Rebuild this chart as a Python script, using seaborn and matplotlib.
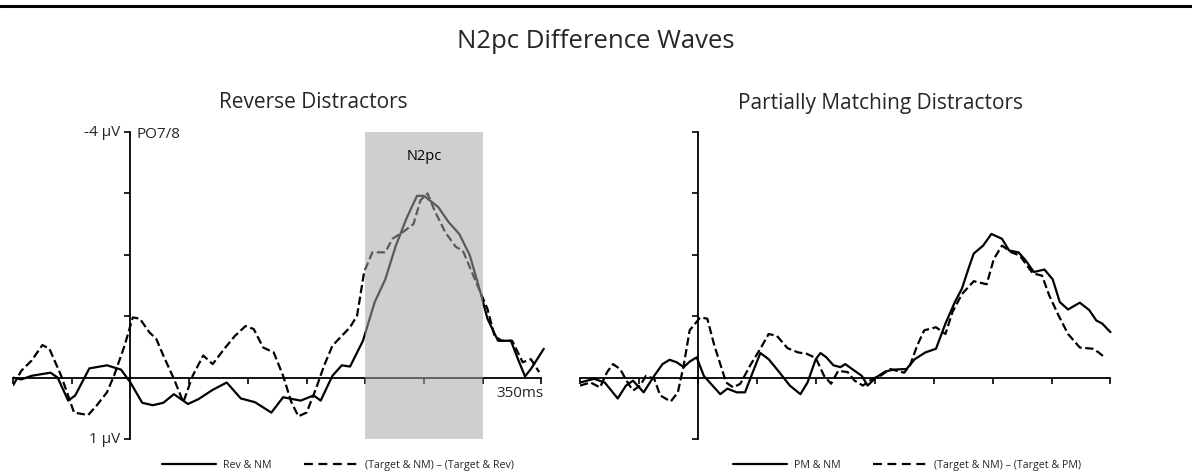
import numpy as np
import pandas as pd
import matplotlib
matplotlib.use("Agg")
import matplotlib.pyplot as plt
import seaborn as sns
from matplotlib.lines import Line2D

# Values (time in ms, amplitude in microvolts, negative up)
rev_nm_t = [-100, -93, -84, -68, -62, -53, -47, -35, -20, -8, 0, 10, 19, 28, 37, 49, 58, 70, 82,
            94, 106, 120, 130, 145, 156, 162, 172, 180, 187, 198, 208, 217, 226, 235, 244, 250,
            262, 271, 280, 289, 298, 304, 313, 324, 330, 336, 341, 352]
rev_nm_uv = [0.0, 0.03, -0.03, -0.08, 0.0, 0.375, 0.29, -0.15, -0.2, -0.13, 0.08, 0.41, 0.45, 0.41,
             0.27, 0.43, 0.35, 0.2, 0.08, 0.34, 0.4, 0.57, 0.32, 0.375, 0.29, 0.375, -0.03, -0.2,
             -0.18, -0.6, -1.23, -1.6, -2.15, -2.59, -2.96, -2.96, -2.78, -2.53, -2.34, -1.99,
             -1.39, -0.96, -0.6, -0.6, -0.3, -0.02, -0.14, -0.47]

rev_diff_t = [-100, -93, -84, -75, -69, -59, -48, -36, -29, -20, -14, -5, 2, 8, 16, 22, 28, 37, 45,
              53, 62, 70, 80, 89, 98, 105, 113, 122, 130, 137, 143, 150, 158, 165, 172, 180, 187,
              193, 199, 206, 217, 223, 232, 241, 247, 253, 259, 268, 277, 283, 292, 298, 304, 310,
              316, 325, 334, 341, 348]
rev_diff_uv = [0.13, -0.11, -0.28, -0.53, -0.47, -0.03, 0.57, 0.61, 0.46, 0.24, -0.03, -0.52,
               -0.98, -0.96, -0.74, -0.63, -0.36, 0.02, 0.4, -0.03, -0.36, -0.22, -0.47, -0.68,
               -0.84, -0.79, -0.49, -0.41, -0.03, 0.4, 0.63, 0.57, 0.18, -0.2, -0.52, -0.68,
               -0.82, -1.01, -1.72, -2.04, -2.04, -2.26, -2.37, -2.5, -2.89, -3.0, -2.72, -2.37,
               -2.13, -2.07, -1.66, -1.39, -1.12, -0.68, -0.6, -0.6, -0.25, -0.3, -0.09]

pm_nm_t = [-100, -88, -79, -68, -61, -55, -46, -37, -30, -24, -18, -12, -7, -1, 5, 11, 19, 25, 33,
           40, 46, 53, 60, 69, 78, 87, 93, 100, 104, 109, 115, 121, 125, 133, 139, 144, 151, 159,
           166, 177, 184, 193, 202, 210, 218, 224, 230, 234, 242, 249, 258, 264, 272, 278, 285,
           294, 301, 307, 314, 324, 332, 338, 343, 350]
pm_nm_uv = [0.08, 0.02, 0.08, 0.34, 0.13, 0.05, 0.24, -0.03, -0.22, -0.29, -0.25, -0.17, -0.26,
            -0.33, -0.03, 0.1, 0.27, 0.18, 0.24, 0.24, -0.06, -0.4, -0.3, -0.09, 0.13, 0.27, 0.08,
            -0.3, -0.4, -0.33, -0.2, -0.17, -0.22, -0.11, -0.03, 0.13, 0.0, -0.1, -0.13, -0.14,
            -0.3, -0.41, -0.47, -0.88, -1.23, -1.45, -1.8, -2.02, -2.15, -2.34, -2.26, -2.07,
            -2.04, -1.91, -1.72, -1.76, -1.6, -1.23, -1.11, -1.22, -1.1, -0.93, -0.88, -0.74]

pm_diff_t = [-100, -91, -83, -77, -72, -66, -59, -55, -49, -44, -37, -32, -23, -17, -12, -7, 2, 8,
             14, 24, 30, 36, 45, 53, 60, 67, 76, 85, 92, 100, 107, 113, 119, 127, 133, 140, 148,
             155, 163, 175, 180, 186, 192, 202, 210, 216, 224, 234, 245, 251, 258, 266, 273, 284,
             292, 298, 306, 314, 324, 335, 340, 345]
pm_diff_uv = [0.13, 0.08, 0.16, -0.09, -0.22, -0.14, 0.1, 0.21, 0.13, -0.03, 0.02, 0.29, 0.39,
              0.24, -0.2, -0.77, -0.98, -0.96, -0.52, 0.08, 0.16, 0.1, -0.22, -0.47, -0.71, -0.68,
              -0.48, -0.41, -0.39, -0.32, -0.03, 0.1, -0.11, -0.09, 0.05, 0.13, 0.02, -0.03,
              -0.14, -0.08, -0.2, -0.52, -0.77, -0.82, -0.71, -1.07, -1.36, -1.57, -1.52, -1.93,
              -2.15, -2.04, -1.99, -1.7, -1.66, -1.34, -1.01, -0.71, -0.49, -0.47, -0.41, -0.33]

x_ticks = [-100, -50, 0, 50, 100, 150, 200, 250, 300, 350]
y_ticks = [-4, -3, -2, -1, 0, 1]
n2pc_window = (200, 300)

FONT = "Open Sans"
sns.set_theme(style="white")
plt.rcParams["font.family"] = [FONT, "DejaVu Sans"]


def make_df(t, v):
    return pd.DataFrame({"time": t, "uv": v})


def style_axes(ax):
    ax.set_xlim(-100, 353)
    ax.set_ylim(1, -4)  # negative up, ERP convention
    for s in ["top", "right"]:
        ax.spines[s].set_visible(False)
    ax.spines["left"].set_position(("data", 0))
    ax.spines["bottom"].set_position(("data", 0))
    ax.spines["left"].set_bounds(1, -4)
    ax.spines["bottom"].set_bounds(-100, 350)
    for s in ["left", "bottom"]:
        ax.spines[s].set_color("black")
        ax.spines[s].set_linewidth(1.3)
    ax.set_xticks(x_ticks)
    ax.set_yticks(y_ticks)
    ax.set_xticklabels([])
    ax.set_yticklabels([])
    ax.tick_params(axis="both", direction="out", length=4, width=1.2, color="black",
                   bottom=True, left=True)
    ax.set_xlabel("")
    ax.set_ylabel("")
    ax.set_facecolor("none")


fig = plt.figure(figsize=(11.92, 4.77), dpi=100)
ax1 = fig.add_axes([13 / 1192, 1 - 440 / 477, 532 / 1192, 307 / 477])
ax2 = fig.add_axes([580 / 1192, 1 - 440 / 477, 534 / 1192, 307 / 477])

lw = 1.6
dash = (4, 2.5)

sns.lineplot(data=make_df(rev_nm_t, rev_nm_uv), x="time", y="uv", ax=ax1,
             color="black", lw=lw, sort=False)
sns.lineplot(data=make_df(rev_diff_t, rev_diff_uv), x="time", y="uv", ax=ax1,
             color="black", lw=lw, dashes=dash, linestyle="--", sort=False)
sns.lineplot(data=make_df(pm_nm_t, pm_nm_uv), x="time", y="uv", ax=ax2,
             color="black", lw=lw, sort=False)
sns.lineplot(data=make_df(pm_diff_t, pm_diff_uv), x="time", y="uv", ax=ax2,
             color="black", lw=lw, dashes=dash, linestyle="--", sort=False)

for ax in (ax1, ax2):
    style_axes(ax)

# translucent N2pc window on top of the waves
ax1.axvspan(*n2pc_window, ymin=0, ymax=1, color="#a7a7a7", alpha=0.54, lw=0, zorder=5)
ax1.text(250, -3.62, "N2pc", ha="center", va="center", fontsize=10.5, color="black", zorder=6)

ax1.text(-9, -4, "-4 µV", ha="right", va="center", fontsize=11)
ax1.text(-9, 1, "1 µV", ha="right", va="center", fontsize=11)
ax1.text(5, -3.97, "PO7/8", ha="left", va="center", fontsize=11)
ax1.text(352, 0.12, "350ms", ha="right", va="top", fontsize=11)

fig.text(0.5, 1 - 42 / 477, "N2pc Difference Waves", ha="center", va="center", fontsize=18.5)
fig.text(313 / 1192, 1 - 103 / 477, "Reverse Distractors", ha="center", va="center", fontsize=15)
fig.text(880 / 1192, 1 - 103 / 477, "Partially Matching Distractors", ha="center", va="center",
         fontsize=15)

# top rule of the figure
fig.add_artist(Line2D([0, 1], [1 - 7 / 477, 1 - 7 / 477], color="black", lw=2.2,
                      transform=fig.transFigure))

handles = [Line2D([], [], color="black", lw=lw),
           Line2D([], [], color="black", lw=lw, ls=(0, dash))]

fig.legend(handles, ["Rev & NM", "(Target & NM) – (Target & Rev)"], loc="center",
           bbox_to_anchor=(338 / 1192, 1 - 466 / 477), ncol=2, frameon=False, fontsize=7.7,
           handlelength=5, handletextpad=0.7, columnspacing=3.0)
fig.legend(handles, ["PM & NM", "(Target & NM) – (Target & PM)"], loc="center",
           bbox_to_anchor=(907 / 1192, 1 - 466 / 477), ncol=2, frameon=False, fontsize=7.7,
           handlelength=5, handletextpad=0.7, columnspacing=3.0)

fig.savefig("out.png", dpi=100)
